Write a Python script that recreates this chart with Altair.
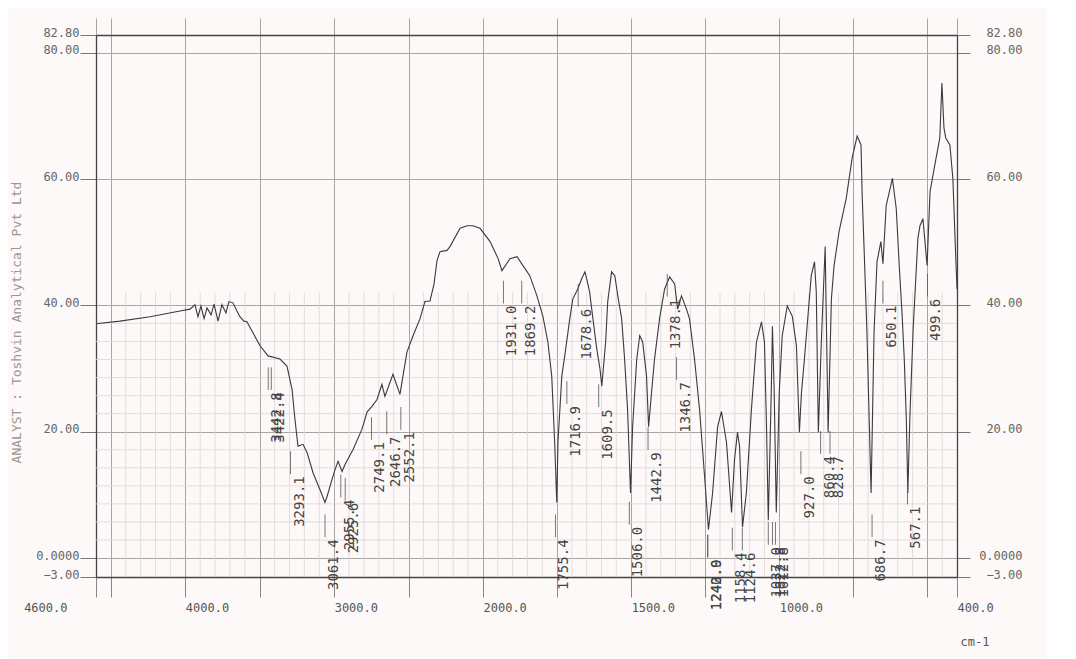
import altair as alt
import pandas as pd

# ---- spectrum (wavenumber cm-1, %T) ----
wavenumber = [4600, 4439, 4237, 4036, 3969, 3935, 3915, 3895, 3874, 3854,
              3827, 3807, 3780, 3754, 3727, 3707, 3680, 3653, 3633, 3606,
              3586, 3498, 3444, 3364, 3317, 3283, 3263, 3243, 3209, 3182,
              3142, 3095, 3062, 3048, 3015, 2994, 2974, 2947, 2927, 2873,
              2813, 2779, 2746, 2712, 2679, 2659, 2605, 2558, 2511, 2470,
              2423, 2390, 2356, 2329, 2309, 2289, 2242, 2222, 2154, 2107,
              2067, 2020, 1976, 1949, 1936, 1909, 1885, 1865, 1842, 1818,
              1798, 1781, 1768, 1758, 1751, 1747, 1734, 1724, 1707, 1697,
              1680, 1667, 1656, 1650, 1640, 1630, 1616, 1605, 1599, 1586,
              1579, 1566, 1555, 1545, 1532, 1522, 1512, 1502, 1495, 1481,
              1471, 1461, 1448, 1441, 1431, 1421, 1404, 1387, 1370, 1353,
              1343, 1330, 1313, 1303, 1286, 1269, 1252, 1239, 1225, 1208,
              1195, 1178, 1161, 1151, 1141, 1134, 1124, 1111, 1094, 1077,
              1060, 1050, 1043, 1037, 1027, 1023, 1017, 1010, 1000, 990,
              973, 956, 942, 932, 925, 915, 892, 881, 875, 868,
              858, 845, 835, 824, 815, 798, 774, 754, 737, 724,
              720, 714, 704, 690, 680, 670, 657, 650, 639, 618,
              605, 595, 585, 578, 571, 566, 559, 548, 532, 525,
              515, 501, 491, 475, 458, 451, 444, 438, 424, 414,
              404, 400]
transmittance = [37.1, 37.5, 38.2, 39.1, 39.4, 40.1, 38.2, 39.9, 37.9, 39.6,
                 38.5, 40.2, 37.5, 40.1, 38.8, 40.6, 40.4, 39.1, 38.2, 37.5,
                 37.4, 33.6, 32.0, 31.5, 30.4, 26.7, 21.9, 17.7, 18.0, 16.7,
                 13.5, 10.8, 8.8, 9.7, 12.4, 14.0, 15.3, 13.7, 14.8, 17.2,
                 20.4, 23.1, 24.0, 25.1, 27.5, 25.6, 29.1, 25.9, 32.6, 35.2,
                 37.9, 40.6, 40.7, 43.4, 47.1, 48.5, 48.7, 49.3, 52.2, 52.6,
                 52.6, 52.2, 50.1, 47.4, 45.5, 47.4, 47.7, 46.3, 44.7, 41.5,
                 38.3, 34.2, 28.8, 18.3, 8.8, 18.3, 28.8, 32.0, 37.9, 41.0,
                 42.6, 44.2, 45.3, 44.2, 42.1, 38.3, 33.1, 29.9, 27.2, 34.2,
                 40.6, 45.3, 44.7, 41.5, 37.9, 31.5, 23.5, 10.3, 20.8, 31.5,
                 35.2, 34.2, 28.8, 20.8, 26.2, 31.5, 37.9, 42.6, 44.5, 43.4,
                 39.4, 41.5, 39.4, 37.9, 31.5, 23.5, 12.9, 4.5, 10.3, 20.8,
                 23.2, 18.3, 7.2, 15.6, 19.9, 17.7, 4.9, 10.3, 23.5, 34.2,
                 37.4, 34.2, 20.8, 6.0, 26.2, 36.7, 26.2, 7.2, 26.2, 35.2,
                 39.9, 38.3, 33.6, 19.9, 26.2, 31.5, 44.7, 46.9, 42.1, 19.9,
                 34.2, 49.3, 19.9, 41.0, 46.3, 51.7, 56.9, 63.3, 66.8, 65.4,
                 57.4, 49.5, 35.8, 10.3, 35.8, 46.9, 50.1, 46.6, 55.8, 60.1,
                 55.3, 46.3, 38.3, 31.5, 21.9, 10.3, 22.4, 36.3, 50.6, 52.6,
                 53.7, 46.3, 58.0, 62.2, 66.5, 75.2, 68.1, 66.5, 65.4, 60.1,
                 47.4, 42.6]

# ---- peak annotations: wavenumber and %T where its marker starts ----
peak_wn = [3442.8, 3422.4, 3293.1, 3061.4, 2955.4, 2925.6, 2749.1, 2646.7,
           2552.1, 1931.0, 1869.2, 1755.4, 1716.9, 1678.6, 1609.5, 1506.0,
           1442.9, 1378.1, 1346.7, 1242.0, 1240.9, 1158.4, 1124.6, 1037.0,
           1022.8, 1012.8, 927.0, 860.4, 828.7, 686.7, 650.1, 567.1, 499.6]
peak_t = [31.0, 31.0, 17.7, 7.7, 14.0, 13.5, 23.1, 24.0,
          24.7, 44.7, 44.7, 7.7, 28.8, 44.2, 28.3, 9.7,
          21.5, 45.8, 32.6, 4.5, 4.5, 5.6, 5.6, 6.5,
          6.5, 6.5, 17.7, 20.9, 20.9, 7.7, 44.7, 12.9, 45.8]

# ---- axes ----
x_labelled = [4600, 4000, 3000, 2000, 1500, 1000, 400]
x_grid = [4600, 4500, 4000, 3500, 3000, 2500, 2000, 1750, 1500, 1250, 1000, 750, 500, 400]
x_minor = [v for v in range(4400, 2000, -100) if v % 500 != 0] + \
          [v for v in range(1950, 400, -50) if v % 250 != 0]
y_ticks = [82.8, 80, 60, 40, 20, 0, -3]
y_minor = [round(k * 20 / 7, 3) for k in range(1, 14) if k != 7]

MONO = "DejaVu Sans Mono"
INK = "#3a3a3a"

spec_df = pd.DataFrame({"wn": wavenumber, "t": transmittance})
peak_df = pd.DataFrame({"wn": peak_wn, "t": peak_t,
                        "label": [f"{w:.1f}" for w in peak_wn]})
xminor_df = pd.DataFrame({"wn": x_minor})
yminor_df = pd.DataFrame({"v": y_minor})

xscale = alt.Scale(domain=[4600, 2000, 400], range=[0, 387, 861], nice=False, zero=False)
yscale = alt.Scale(domain=[-3, 82.8], nice=False, zero=False)

y_label_expr = "datum.value == 0 ? '0.0000' : format(datum.value, '.2f')"

bottom_axis = alt.Axis(
    orient="bottom", values=x_grid, title="cm-1",
    labelExpr="indexof([4600,4000,3000,2000,1500,1000,400], datum.value) >= 0 ? format(datum.value, '.1f') : ''",
    labelAlign=alt.condition("datum.value == 4600", alt.value("right"), alt.value("left")),
    labelOffset=alt.condition("datum.value == 4600", alt.value(-29), alt.value(0)),
    labelBaseline="top", labelPadding=5, labelFlush=False, labelOverlap=False, labelBound=False,
    labelFont=MONO, labelFontSize=12, labelColor="#555",
    tickSize=20, tickColor="#8a8686", tickWidth=1,
    grid=True, gridColor="#aaa5a5", gridWidth=1,
    domainColor="#444", domainWidth=1.3,
    titleFont=MONO, titleFontSize=12, titleFontWeight="normal", titleColor="#555",
    titleX=864, titleY=71, titleAlign="left", titleBaseline="bottom", titleAnchor="start",
)
top_axis = alt.Axis(
    orient="top", values=x_grid, labels=False, title=None,
    tickSize=17, tickColor="#aaa5a5", grid=False,
    domainColor="#444", domainWidth=1.3,
)
left_axis = alt.Axis(
    orient="left", values=y_ticks, labelExpr=y_label_expr,
    labelFont=MONO, labelFontSize=12, labelColor="#666", labelPadding=1,
    labelBaseline="middle", labelOffset=-3, labelOverlap=False, labelFlush=False, labelBound=False,
    tickSize=16, tickColor="#777", grid=True, gridColor="#aaa5a5", gridWidth=1,
    domainColor="#444", domainWidth=1.3,
    title="ANALYST : Toshvin Analytical Pvt Ltd", titleFont=MONO, titleFontSize=13,
    titleFontWeight="normal", titleColor="#9a9696", titleAngle=270,
    titleX=-80, titleY=287, titleAlign="center", titleBaseline="middle",
)
right_axis = alt.Axis(
    orient="right", values=y_ticks, labelExpr=y_label_expr,
    labelFont=MONO, labelFontSize=12, labelColor="#666",
    labelAlign="right", labelPadding=52, labelBaseline="middle", labelOffset=-3,
    labelOverlap=False, labelFlush=False, labelBound=False,
    tickSize=13, tickColor="#777", grid=False, title=None,
    domainColor="#444", domainWidth=1.3,
)

# minor paper grid (vertical) + top/right axes
vminor = alt.Chart(xminor_df).mark_rule(color="#ddd6d6", strokeWidth=0.8).transform_calculate(
    lo="-3", hi="42"
).encode(
    x=alt.X("wn:Q", scale=xscale, axis=top_axis),
    y=alt.Y("lo:Q", scale=yscale, axis=right_axis),
    y2="hi:Q",
)

# minor paper grid (horizontal)
hminor = alt.Chart(yminor_df).mark_rule(color="#ddd6d6", strokeWidth=0.8).transform_calculate(
    x0="4600", x1="400"
).encode(
    x=alt.X("x0:Q", scale=xscale, axis=None),
    x2="x1:Q",
    y=alt.Y("v:Q", scale=yscale, axis=None),
)

spectrum = alt.Chart(spec_df).mark_line(color=INK, strokeWidth=1.1, interpolate="linear").encode(
    x=alt.X("wn:Q", scale=xscale, axis=bottom_axis, sort=None),
    y=alt.Y("t:Q", scale=yscale, axis=left_axis),
    order=alt.Order("idx:Q"),
).transform_window(idx="row_number()")

peak_ticks = alt.Chart(peak_df).mark_rule(color="#555", strokeWidth=0.8).transform_calculate(
    a="datum.t - 0.8", b="datum.t - 4.4"
).encode(
    x=alt.X("wn:Q", scale=xscale, axis=None),
    y=alt.Y("a:Q", scale=yscale, axis=None),
    y2="b:Q",
)

peak_labels = alt.Chart(peak_df).mark_text(
    angle=270, align="right", baseline="top", dx=-30, dy=2,
    font=MONO, fontSize=14, color="#444",
).encode(
    x=alt.X("wn:Q", scale=xscale, axis=None),
    y=alt.Y("t:Q", scale=yscale, axis=None),
    text="label:N",
)

chart = alt.layer(vminor, hminor, spectrum, peak_ticks, peak_labels).resolve_axis(
    x="independent", y="independent"
).properties(
    width=861, height=542,
    autosize=alt.AutoSizeParams(type="none"),
    padding={"left": 88, "top": 27, "right": 90, "bottom": 80},
    background="#fcf9f8",
).configure_view(stroke=None)

chart.save("out.html", embed_options={"renderer": "svg", "actions": False})
